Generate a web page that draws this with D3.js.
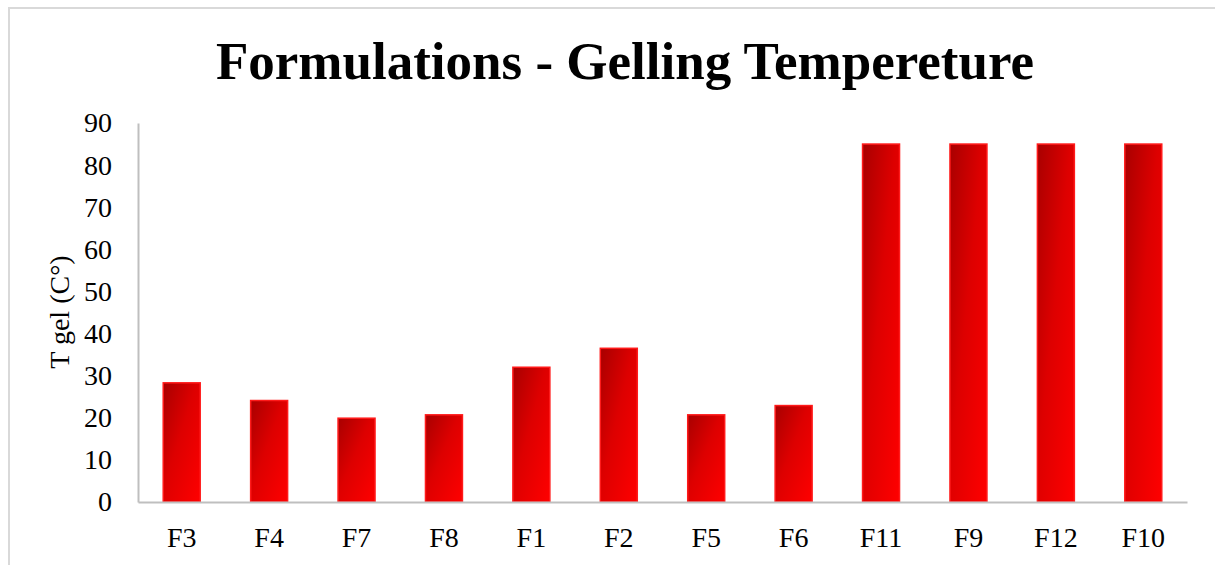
<!DOCTYPE html>
<html><head><meta charset="utf-8">
<script src="https://cdn.jsdelivr.net/npm/d3@7/dist/d3.min.js"></script>
<style>html,body{margin:0;padding:0;background:#fff;}svg{display:block;}</style>
</head><body>
<script>
const categories = ["F3","F4","F7","F8","F1","F2","F5","F6","F11","F9","F12","F10"];
const values = [28.3, 24.1, 19.9, 20.7, 32.0, 36.5, 20.7, 22.9, 85, 85, 85, 85];
const yTicks = [0,10,20,30,40,50,60,70,80,90];
const title = "Formulations - Gelling Tempereture";
const yLabel = "T gel (C°)";

const W = 1215, H = 565;
const m = {left:138, right:28, top:123, bottom:63};
const svg = d3.select("body").append("svg").attr("width", W).attr("height", H);

const defs = svg.append("defs");
const g = defs.append("linearGradient").attr("id","barGrad")
  .attr("x1","0").attr("y1","0").attr("x2","1").attr("y2","1");
g.append("stop").attr("offset","0%").attr("stop-color","#a80000");
g.append("stop").attr("offset","45%").attr("stop-color","#dd0000");
g.append("stop").attr("offset","100%").attr("stop-color","#ff0000");

svg.append("rect").attr("x",9).attr("y",8).attr("width",W).attr("height",H)
  .attr("fill","#fff").attr("stroke","#d9d9d9").attr("stroke-width",2);

const x = d3.scaleBand().domain(categories).range([m.left, W - m.right]).paddingInner(0.577).paddingOuter(0.2885);
const y = d3.scaleLinear().domain([0,90]).range([H - m.bottom, m.top]);

const serif = "Liberation Serif, Times New Roman, serif";

svg.append("text").attr("x", 625).attr("y", 79).attr("text-anchor","middle")
  .attr("font-family",serif).attr("font-weight","bold")
  .attr("font-size", 53).attr("fill","#000").text(title);

svg.append("g").selectAll("rect").data(categories).join("rect")
  .attr("x", d => x(d)).attr("width", x.bandwidth())
  .attr("y", (d,i) => y(values[i])).attr("height", (d,i) => y(0) - y(values[i]))
  .attr("fill","url(#barGrad)").attr("stroke","#ff1a1a").attr("stroke-width",1.5);

const yAxis = svg.append("g").attr("transform",`translate(${m.left},0)`)
  .call(d3.axisLeft(y).tickValues(yTicks).tickSize(0).tickPadding(26));
yAxis.select(".domain").attr("stroke","#bfbfbf").attr("stroke-width",2);
yAxis.selectAll("text").attr("font-family",serif)
  .attr("font-size",28).attr("fill","#000");

const xAxis = svg.append("g").attr("transform",`translate(0,${y(0)})`)
  .call(d3.axisBottom(x).tickSize(0).tickPadding(25));
xAxis.select(".domain").attr("stroke","#bfbfbf").attr("stroke-width",2);
xAxis.selectAll("text").attr("font-family",serif)
  .attr("font-size",28).attr("fill","#000");

svg.append("text").attr("transform",`translate(69,312) rotate(-90)`).attr("text-anchor","middle")
  .attr("font-family",serif).attr("font-size",28)
  .attr("fill","#000").text(yLabel);
</script>
</body></html>
